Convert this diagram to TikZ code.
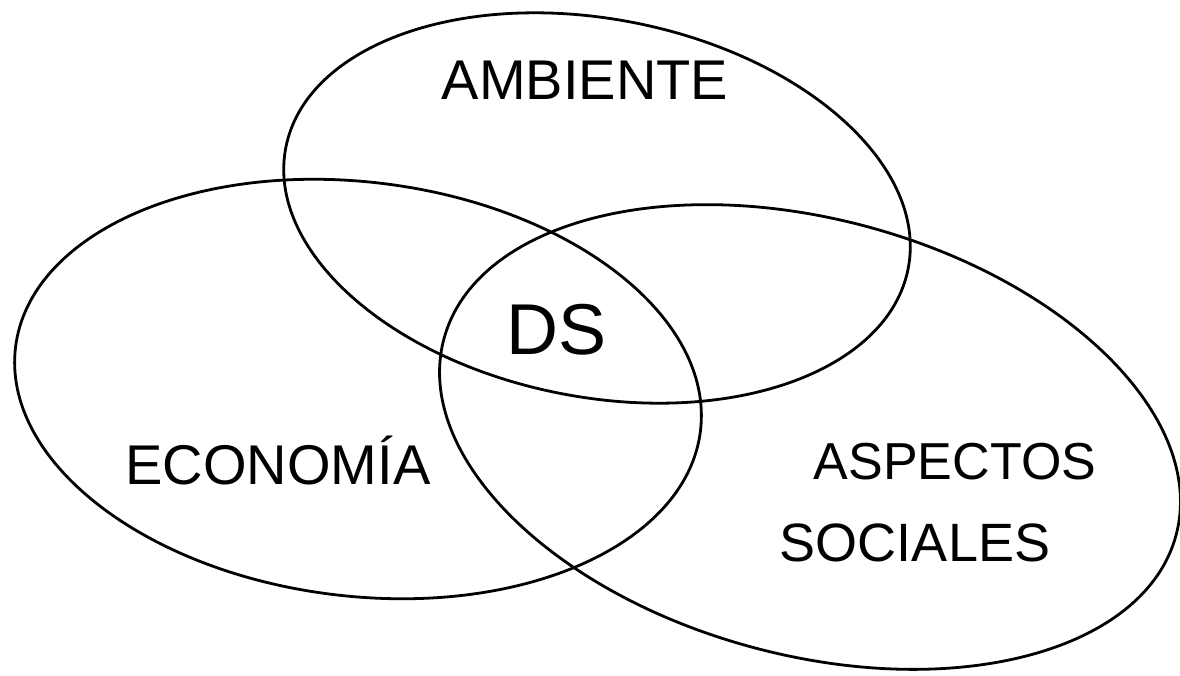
\documentclass[tikz,border=0pt]{standalone}
\usepackage{fontspec}
\setmainfont{Liberation Sans}
\begin{document}
\begin{tikzpicture}[x=1pt,y=-1pt,
  setline/.style={line width=2.8pt, black},
  lbl/.style={font=\fontsize{54}{60}\selectfont, inner sep=0pt}]
\useasboundingbox (0,0) rectangle (1180,675);
\coordinate (cA) at (597,208);
\coordinate (cE) at (358,389);
\coordinate (cS) at (810,437);
\draw[setline, rotate around={-11:(cA)}] (cA) ellipse (317 and 189);
\draw[setline, rotate around={-7:(cE)}] (cE) ellipse (345 and 207);
\draw[setline, rotate around={-15:(cS)}] (cS) ellipse (379 and 218);
\node[lbl, font=\fontsize{56}{60}\selectfont] (amb) at (585,80) {AMBIENTE};
\node[lbl, font=\fontsize{72}{76}\selectfont] (ds) at (557,330) {DS};
\node[lbl, font=\fontsize{56}{60}\selectfont] (eco) at (278,460) {ECONOMÍA};
\node[lbl, font=\fontsize{52}{56}\selectfont] (asp) at (955,462) {ASPECTOS};
\node[lbl, font=\fontsize{54}{58}\selectfont] (soc) at (915,543) {SOCIALES};
\end{tikzpicture}
\end{document}
